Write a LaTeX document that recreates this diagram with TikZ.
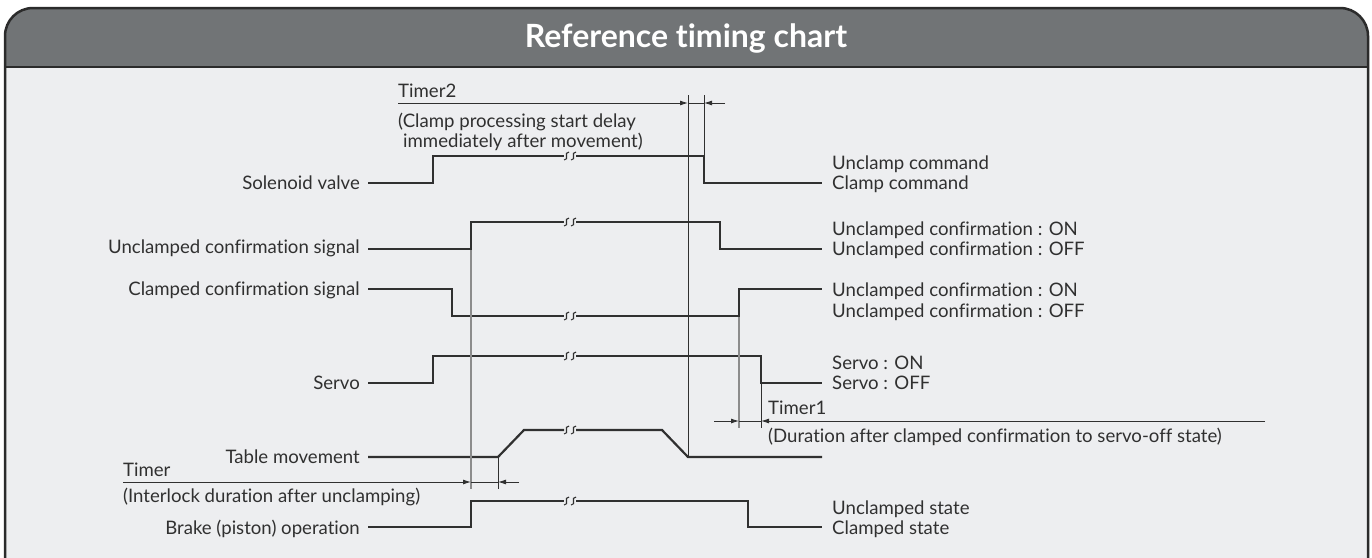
\documentclass[tikz,border=0pt]{standalone}
\usepackage{fontspec}
\setmainfont{Lato}[Ligatures=NoCommon]
\usetikzlibrary{arrows.meta}
\definecolor{hdr}{HTML}{717476}
\definecolor{paper}{HTML}{EDEEF0}
\definecolor{frm}{HTML}{2B2B2B}
\definecolor{ink}{HTML}{303030}
\definecolor{guidegray}{HTML}{8C8C8C}

\begin{document}
\begin{tikzpicture}[x=1pt, y=-1pt, font=\fontsize{18.6}{21}\selectfont,
  wave/.style={draw=ink, line width=2.2pt},
  lead/.style={draw=ink, line width=1pt},
  guide/.style={draw=guidegray, line width=1.4pt},
  tip/.style={draw=ink, line width=0.9pt, -{Latex[length=8pt, width=5pt]}},
  txt/.style={inner sep=0pt, text=ink, yshift=-6.5pt}]
\newcommand{\brk}[2]{% x, y of a break on a level line
  \draw[ink, line width=1.1pt] (#1-1,#2-4) .. controls (#1-7,#2-4) and (#1,#2+4) .. (#1-6,#2+4);
  \draw[ink, line width=1.1pt] (#1+6,#2-4) .. controls (#1,#2-4) and (#1+7,#2+4) .. (#1+1,#2+4);}
\useasboundingbox (0,0) rectangle (1372,557);
% frame and title bar
\fill[paper, rounded corners=28pt] (5,640) -- (5,8) -- (1368,8) -- (1368,640) -- cycle;
\begin{scope}
  \clip[rounded corners=28pt] (5,640) -- (5,8) -- (1368,8) -- (1368,640) -- cycle;
  \fill[hdr] (0,0) rectangle (1372,67);
\end{scope}
\draw[frm, line width=2.5pt] (5,67) -- (1368,67);
\draw[frm, line width=2.5pt, rounded corners=28pt] (5,640) -- (5,8) -- (1368,8) -- (1368,640);
\node[font=\bfseries\fontsize{32}{36}\selectfont, text=white] (title) at (686,38) {Reference timing chart};
% signal names
\foreach \n/\y/\t in {solv/183/Solenoid valve, ucs/247/Unclamped confirmation signal,
    ccs/289/Clamped confirmation signal, servo/383/Servo, table/457/Table movement,
    brake/528/{Brake (piston) operation}}
  \node[txt, anchor=base east] (\n) at (360,\y) {\t};
\foreach \y/\t [count=\i] in {163/Unclamp command, 183/Clamp command,
    229/Unclamped confirmation : ON, 249/Unclamped confirmation : OFF,
    290/Unclamped confirmation : ON, 311/Unclamped confirmation : OFF,
    363/Servo : ON, 383/Servo : OFF, 508/Unclamped state, 528/Clamped state}
  \node[txt, anchor=base west] (state\i) at (832,\y) {\t};
% waveforms
\draw[wave] (368,183) -- (433,183) -- (433,156) -- (564,156);
\draw[wave] (576,156) -- (704,156) -- (704,183) -- (822,183);
\draw[wave] (368,249) -- (471,249) -- (471,222) -- (564,222);
\draw[wave] (576,222) -- (720,222) -- (720,249) -- (822,249);
\draw[wave] (368,289) -- (452,289) -- (452,316) -- (564,316);
\draw[wave] (576,316) -- (739,316) -- (739,289) -- (822,289);
\draw[wave] (368,383) -- (433,383) -- (433,356) -- (564,356);
\draw[wave] (576,356) -- (761,356) -- (761,383) -- (822,383);
\draw[wave] (368,457) -- (498,457) -- (524,430) -- (564,430);
\draw[wave] (576,430) -- (662,430) -- (688,457) -- (822,457);
\draw[wave] (368,527) -- (471,527) -- (471,501) -- (564,501);
\draw[wave] (576,501) -- (748,501) -- (748,527) -- (822,527);
\foreach \y in {156,222,316,356,430,501}
  \brk{570}{\y}
% guide lines
\draw[guide] (471,250) -- (471,489);
\draw[guide] (739,317) -- (739,428);
\draw[lead] (688,95) -- (688,457);
\draw[lead] (704,95) -- (704,156);
\draw[lead] (761,384) -- (761,428);
\draw[lead] (498,458) -- (498,489);
% timers
\draw[lead] (688,103) -- (704,103);
\draw[tip] (398,103) -- (688,103);
\draw[tip] (725,103) -- (704,103);
\node[txt, anchor=base west] (t2) at (398,91) {Timer2};
\node[txt, anchor=base west] (t2a) at (398,121) {(Clamp processing start delay};
\node[txt, anchor=base west] (t2b) at (403,141) {immediately after movement)};
\draw[lead] (739,421) -- (761,421);
\draw[tip] (714,421) -- (739,421);
\draw[tip] (1265,421) -- (761,421);
\node[txt, anchor=base west] (t1) at (768,408) {Timer1};
\node[txt, anchor=base west] (t1a) at (768,436) {(Duration after clamped confirmation to servo-off state)};
\draw[lead] (471,482) -- (498,482);
\draw[tip] (123,482) -- (471,482);
\draw[tip] (519,482) -- (498,482);
\node[txt, anchor=base west] (t0) at (123,470) {Timer};
\node[txt, anchor=base west] (t0a) at (123,496) {(Interlock duration after unclamping)};
\end{tikzpicture}
\end{document}
